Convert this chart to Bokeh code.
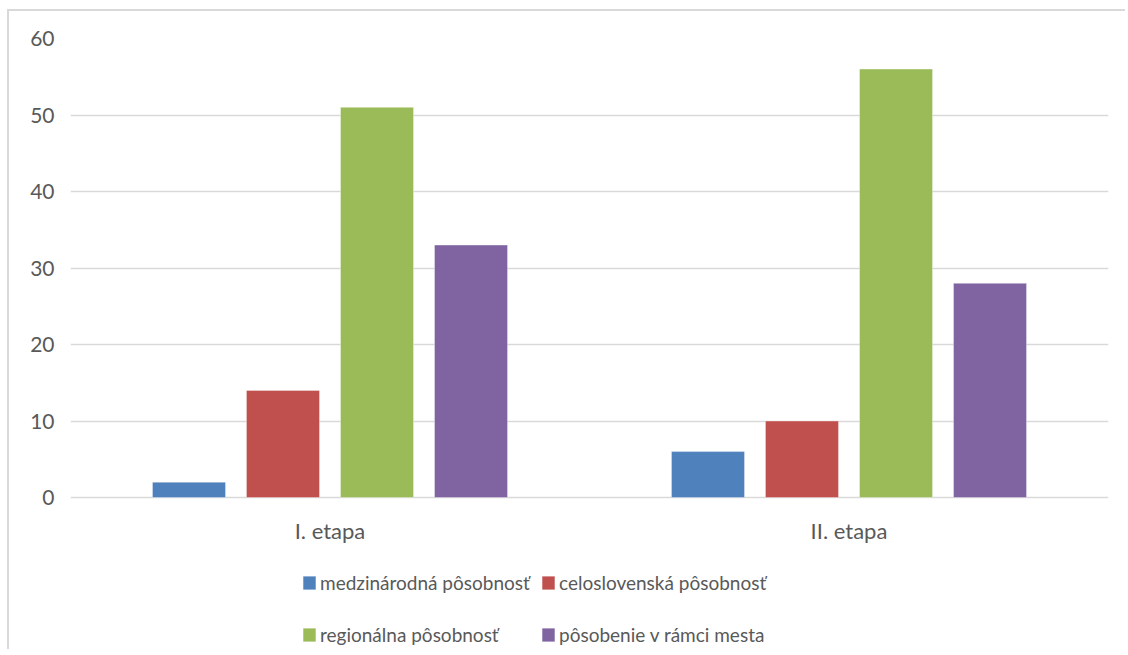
from bokeh.plotting import figure
from bokeh.models import ColumnDataSource, FactorRange, Range1d, FixedTicker, Legend, LegendItem
from bokeh.transform import dodge
from bokeh.core.properties import value
from bokeh.embed import file_html
from bokeh.resources import INLINE

categories = ["I. etapa", "II. etapa"]
series = ["medzinárodná pôsobnosť", "celoslovenská pôsobnosť",
          "regionálna pôsobnosť", "pôsobenie v rámci mesta"]
medzinarodna = [2, 6]
celoslovenska = [14, 10]
regionalna = [51, 56]
mesto = [33, 28]
y_ticks = [0, 10, 20, 30, 40, 50, 60]
y_max = 60

colors = ["#4F81BD", "#C0504D", "#9BBB59", "#8064A2"]
FONT = "Lato"
TXT = "#595959"
FS = "22px"

# layout (pixels)
W, H = 1118, 640
TOP, LEFT, RIGHT = 27, 61, 19
PLOT_H = 459                      # height of the 0..60 value area
frame_h = H - TOP
y_start = -y_max * (frame_h - PLOT_H) / PLOT_H

src = ColumnDataSource(dict(cat=categories, s0=medzinarodna, s1=celoslovenska,
                            s2=regionalna, s3=mesto, zero=[0] * len(categories)))

p = figure(width=W, height=H, x_range=FactorRange(*categories, range_padding=0),
           y_range=Range1d(y_start, y_max), output_backend="svg", toolbar_location=None,
           x_axis_location=None,
           min_border_left=LEFT, min_border_right=RIGHT, min_border_top=TOP,
           min_border_bottom=0)
p.x_range.range_padding = 0
p.outline_line_color = None
p.background_fill_color = "white"
p.border_fill_color = "white"
p.styles = {"margin-left": "7px", "margin-top": "9px",
            "border-left": "2px solid #d9d9d9", "border-top": "2px solid #d9d9d9"}

offsets = [-0.2717, -0.0906, 0.0906, 0.2717]
renderers = []
for i, key in enumerate(["s0", "s1", "s2", "s3"]):
    r = p.vbar(x=dodge("cat", offsets[i], range=p.x_range), top=key, width=0.1407,
               source=src, fill_color=colors[i], line_color="white", line_alpha=0.35,
               line_width=1)
    renderers.append(r)

# category labels under the baseline
p.text(x="cat", y="zero", text="cat", source=src, y_offset=33,
       text_align="center", text_baseline="middle", text_font=value(FONT),
       text_font_size=FS, text_color=TXT)

p.xgrid.grid_line_color = None
p.ygrid.grid_line_color = "#D9D9D9"
p.ygrid.grid_line_width = 1.3
p.yaxis.ticker = FixedTicker(ticks=y_ticks)
p.yaxis.axis_line_color = None
p.yaxis.major_tick_line_color = None
p.yaxis.minor_tick_line_color = None
p.yaxis.major_tick_out = 0
p.yaxis.major_tick_in = 0
p.yaxis.major_label_standoff = 16
p.yaxis.major_label_text_font = FONT
p.yaxis.major_label_text_font_size = "21px"
p.yaxis.major_label_text_color = TXT


def make_legend(idx, loc):
    leg = Legend(items=[LegendItem(label=series[i], renderers=[renderers[i]]) for i in idx],
                 orientation="horizontal", location=loc, padding=0, margin=0,
                 spacing=6, label_standoff=3, glyph_width=16, glyph_height=17,
                 label_height=28, label_width=214,
                 label_text_font=FONT, label_text_font_size="19px",
                 label_text_color=TXT, border_line_color=None,
                 background_fill_alpha=0)
    return leg

p.add_layout(make_legend([0, 1], (231, 55)), "center")
p.add_layout(make_legend([2, 3], (231, 3)), "center")

open("out.html", "w").write(file_html(p, INLINE))
